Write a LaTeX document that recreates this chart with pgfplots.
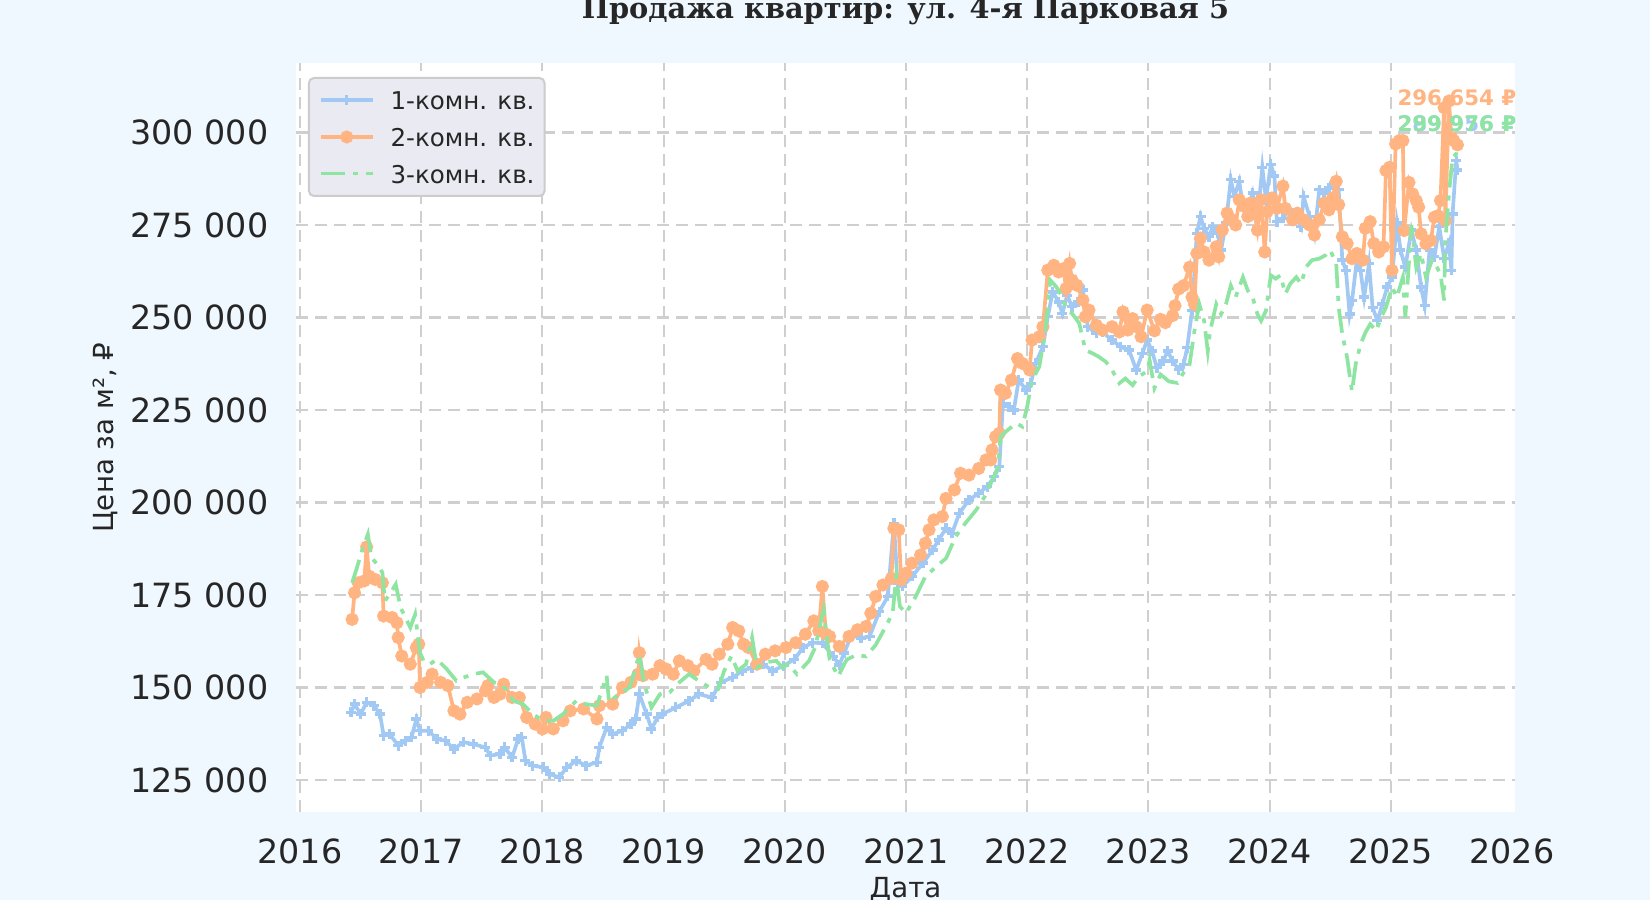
\documentclass[border=0pt]{standalone}
\usepackage{fontspec}
\setmainfont{DejaVu Sans}
\newfontfamily\titleserif{DejaVu Serif}
\usepackage{pgfplots}
\pgfplotsset{compat=1.18}

\definecolor{figbg}{HTML}{F0F8FF}
\definecolor{txt}{HTML}{262626}
\definecolor{gridcol}{HTML}{CFCFCF}
\definecolor{legbg}{HTML}{EAEAF2}
\definecolor{legborder}{HTML}{CCCCCC}
\definecolor{c1}{HTML}{A1C9F4}
\definecolor{c2}{HTML}{FFB482}
\definecolor{c3}{HTML}{8DE5A1}

\begin{document}
\begin{tikzpicture}
\useasboundingbox (0,0) rectangle (495pt,270pt);
\fill[figbg] (0,0) rectangle (495pt,270pt);
\begin{axis}[
    at={(88.8pt,26.4pt)}, anchor=south west,
    width=365.7pt, height=224.7pt, scale only axis,
    xmin=2015.967, xmax=2026.025,
    ymin=116350, ymax=318780,
    scaled y ticks=false,
    clip mode=individual,
    axis background/.style={fill=white},
    axis line style={draw=none},
    major tick length=0pt,
    grid=major,
    major grid style={gridcol, line width=0.65pt, dash pattern=on 3.6pt off 2.1pt},
    xtick={2016,2017,2018,2019,2020,2021,2022,2023,2024,2025},
    xticklabels={2016,2017,2018,2019,2020,2021,2022,2023,2024,2025},
    extra x ticks={2026},
    extra x tick labels={2026},
    extra x tick style={grid=none},
    ytick={125000,150000,175000,200000,225000,250000,275000,300000},
    yticklabels={125 000,150 000,175 000,200 000,225 000,250 000,275 000,300 000},
    /pgf/number format/assume math mode=true,
    tick label style={font=\fontsize{10}{12}\selectfont, text=txt, inner sep=0pt},
    xticklabel style={anchor=north, yshift=-7.8pt},
    yticklabel style={anchor=east, xshift=-8.1pt},
    xlabel={Дата},
    ylabel={Цена за м², ₽},
    every axis x label/.style={at={(axis description cs:0.5,-0.1135)}, anchor=base, font=\fontsize{8.3}{10}\selectfont, text=txt},
    every axis y label/.style={at={(axis description cs:-0.1567,0.5)}, rotate=90, anchor=center, font=\fontsize{8.3}{10}\selectfont, text=txt},
    legend cell align=left,
    legend image code/.code={\draw[mark repeat=2, mark phase=2, #1] plot coordinates {(0pt,0pt) (7.8pt,0pt) (15.6pt,0pt)};},
    legend style={at={(0.0098,0.9813)}, anchor=north west, fill=legbg, draw=legborder, line width=0.6pt,
        rounded corners=1.5pt, inner xsep=3pt, inner ysep=3.8pt, column sep=4.8pt, row sep=5.2pt,
        font=\fontsize{7.35}{9}\selectfont, text=txt,
        nodes={inner sep=0pt, text height=5.8pt, text depth=0pt}},
]
\addplot[c1, line width=1.1pt, mark=+, mark size=1.5pt, mark options={solid, line width=1pt}] coordinates {
(2016.42,143300) (2016.45,145500) (2016.50,142800) (2016.55,146000) (2016.61,145100) (2016.66,142800)
(2016.69,137000) (2016.74,137400) (2016.81,134300) (2016.87,135600) (2016.92,136500) (2016.96,141500)
(2016.99,138300) (2017.06,138300) (2017.13,136100) (2017.20,135600) (2017.27,133400) (2017.35,135200)
(2017.43,134700) (2017.53,133800) (2017.57,131600) (2017.65,132000) (2017.69,133800) (2017.75,131100)
(2017.80,136100) (2017.83,136500) (2017.86,130200) (2017.92,128900) (2018.01,128400) (2018.06,126600)
(2018.14,125700) (2018.20,128400) (2018.28,130200) (2018.36,128900) (2018.45,129800) (2018.47,133800)
(2018.53,139200) (2018.58,137400) (2018.66,138300) (2018.73,140100) (2018.77,141500) (2018.80,148200)
(2018.86,142800) (2018.90,138800) (2018.95,141900) (2018.99,142800) (2019.10,144600) (2019.21,146400)
(2019.29,148200) (2019.40,147300) (2019.47,151400) (2019.57,152700) (2019.65,154500) (2019.73,155400)
(2019.82,156300) (2019.90,154500) (2019.99,155900) (2020.08,157600) (2020.15,160800) (2020.23,162100)
(2020.31,162000) (2020.40,158400) (2020.45,156100) (2020.49,159300) (2020.55,164200) (2020.63,163300)
(2020.70,163800) (2020.78,170500) (2020.85,174600) (2020.90,194400) (2020.93,178200) (2020.97,177300)
(2021.05,180000) (2021.14,183600) (2021.22,187200) (2021.27,189900) (2021.33,193000) (2021.38,191700)
(2021.44,197100) (2021.52,200700) (2021.60,202500) (2021.67,204300) (2021.73,207000) (2021.77,209700)
(2021.80,226800) (2021.85,225900) (2021.89,225000) (2021.93,233100) (2021.99,230400) (2022.03,232200)
(2022.07,237600) (2022.13,242100) (2022.17,250200) (2022.21,256900) (2022.26,254200) (2022.29,251100)
(2022.33,256000) (2022.37,252900) (2022.42,254200) (2022.46,257400) (2022.50,247500) (2022.57,245700)
(2022.62,246100) (2022.70,243900) (2022.77,242100) (2022.84,241200) (2022.90,235800) (2022.95,240300)
(2022.99,243900) (2023.03,240900) (2023.07,236400) (2023.12,238200) (2023.16,240900) (2023.20,238200)
(2023.25,235900) (2023.29,237300) (2023.32,241800) (2023.36,251800) (2023.40,272700) (2023.43,277300)
(2023.46,274100) (2023.50,271800) (2023.53,274500) (2023.57,272700) (2023.60,268200) (2023.64,275500)
(2023.68,287300) (2023.71,282700) (2023.75,286800) (2023.78,280000) (2023.82,279100) (2023.86,283600)
(2023.90,276800) (2023.94,290500) (2023.97,281800) (2024.01,291400) (2024.04,288200) (2024.06,275900)
(2024.11,276800) (2024.16,279100) (2024.22,277300) (2024.26,274500) (2024.28,282700) (2024.33,277300)
(2024.37,272300) (2024.41,284500) (2024.45,283600) (2024.49,285000) (2024.53,286400) (2024.57,284500)
(2024.60,265500) (2024.63,262700) (2024.66,250900) (2024.68,254500) (2024.72,265500) (2024.75,262700)
(2024.78,255500) (2024.82,264500) (2024.85,252700) (2024.89,249100) (2024.93,253600) (2024.97,258200)
(2025.01,260900) (2025.05,275500) (2025.08,268200) (2025.12,263600) (2025.17,273600) (2025.21,268200)
(2025.25,258200) (2025.28,253200) (2025.32,268200) (2025.36,266400) (2025.40,274500) (2025.44,266000)
(2025.48,270000) (2025.50,262700) (2025.51,278000) (2025.54,292400) (2025.55,289900)
};
\addlegendentry{1-комн. кв.}
\addplot[c2, line width=1.1pt, mark=*, mark size=1.4pt, mark options={solid}] coordinates {
(2016.43,168400) (2016.45,175600) (2016.48,178300) (2016.53,178800) (2016.55,188000) (2016.57,180100)
(2016.62,179200) (2016.68,178300) (2016.69,169300) (2016.76,168900) (2016.80,167500) (2016.81,163500)
(2016.84,158500) (2016.91,156300) (2016.96,160800) (2016.98,161700) (2016.99,150000) (2017.05,151400)
(2017.09,153600) (2017.16,151400) (2017.22,150500) (2017.27,143700) (2017.32,142800) (2017.38,146000)
(2017.46,146900) (2017.53,149100) (2017.55,150500) (2017.60,147300) (2017.65,148200) (2017.68,150900)
(2017.75,147300) (2017.81,147300) (2017.87,141900) (2017.94,140100) (2018.00,138800) (2018.03,141900)
(2018.09,138800) (2018.17,141000) (2018.23,143700) (2018.34,144200) (2018.45,141500) (2018.47,145100)
(2018.58,145500) (2018.66,150000) (2018.73,151400) (2018.79,153600) (2018.80,159400) (2018.83,153200)
(2018.91,153600) (2018.97,155900) (2019.02,155000) (2019.08,153600) (2019.13,157200) (2019.20,155900)
(2019.25,154500) (2019.35,157600) (2019.40,156300) (2019.46,159000) (2019.53,161700) (2019.57,166200)
(2019.62,165300) (2019.66,161700) (2019.70,160800) (2019.77,156300) (2019.84,159000) (2019.92,159900)
(2020.01,160800) (2020.09,162100) (2020.17,164400) (2020.24,168000) (2020.28,165300) (2020.31,177300)
(2020.34,164400) (2020.37,163800) (2020.45,161100) (2020.53,163800) (2020.60,165600) (2020.67,166500)
(2020.71,170100) (2020.75,174600) (2020.81,177700) (2020.88,179500) (2020.90,193000) (2020.94,192600)
(2020.96,179100) (2021.00,180900) (2021.05,183600) (2021.12,185800) (2021.16,189000) (2021.19,192600)
(2021.23,195300) (2021.30,196200) (2021.33,201100) (2021.40,203400) (2021.45,207900) (2021.52,207400)
(2021.60,209200) (2021.66,211500) (2021.70,211500) (2021.71,214200) (2021.74,217800) (2021.77,218700)
(2021.78,230400) (2021.82,229500) (2021.87,233100) (2021.92,238900) (2021.96,237600) (2022.02,235800)
(2022.04,243900) (2022.10,244800) (2022.13,247500) (2022.17,262800) (2022.22,264100) (2022.26,262300)
(2022.30,263200) (2022.32,257800) (2022.35,264600) (2022.37,260100) (2022.41,258700) (2022.46,254700)
(2022.48,250200) (2022.51,252000) (2022.57,247900) (2022.62,246600) (2022.70,247500) (2022.76,246100)
(2022.79,251500) (2022.83,246600) (2022.87,249700) (2022.90,247500) (2022.94,244800) (2022.99,252000)
(2023.05,246400) (2023.10,249500) (2023.14,248600) (2023.20,250500) (2023.22,253200) (2023.25,257700)
(2023.29,258600) (2023.34,263600) (2023.36,255500) (2023.38,253600) (2023.40,267300) (2023.43,271400)
(2023.46,267700) (2023.50,265500) (2023.56,269100) (2023.58,266400) (2023.61,273600) (2023.65,278200)
(2023.69,276400) (2023.72,275000) (2023.75,281800) (2023.79,280000) (2023.82,277300) (2023.84,280900)
(2023.87,279100) (2023.90,273600) (2023.93,281800) (2023.96,267700) (2023.98,278600) (2024.02,282300)
(2024.06,279500) (2024.11,285500) (2024.13,279500) (2024.19,276400) (2024.23,278200) (2024.28,276400)
(2024.33,275000) (2024.37,272300) (2024.41,276400) (2024.45,280900) (2024.49,279100) (2024.52,282300)
(2024.55,286800) (2024.57,280500) (2024.60,271800) (2024.64,270000) (2024.68,265900) (2024.72,267300)
(2024.77,265500) (2024.79,274100) (2024.83,275900) (2024.86,270000) (2024.90,267700) (2024.94,269100)
(2024.96,289700) (2024.99,290600) (2025.01,262700) (2025.04,296900) (2025.07,297800) (2025.10,297800)
(2025.11,273500) (2025.15,286500) (2025.18,283400) (2025.21,281600) (2025.23,279800) (2025.25,272600)
(2025.29,269900) (2025.33,270800) (2025.36,277100) (2025.39,277500) (2025.41,281600) (2025.44,306700)
(2025.45,276200) (2025.48,308500) (2025.50,298700) (2025.52,297800) (2025.55,296654)
};
\addlegendentry{2-комн. кв.}
\addplot[c3, line width=1.1pt, dash pattern=on 7.2pt off 2.4pt on 1.5pt off 2.4pt] coordinates {
(2016.43,178300) (2016.47,182400) (2016.51,186900) (2016.56,191400) (2016.59,185100) (2016.65,182800)
(2016.68,181000) (2016.70,173400) (2016.74,175200) (2016.79,177900) (2016.83,171600) (2016.87,168900)
(2016.91,166200) (2016.95,169800) (2016.97,164400) (2016.99,159400) (2017.02,157200) (2017.07,156300)
(2017.13,157600) (2017.21,155000) (2017.29,151800) (2017.35,152700) (2017.43,153600) (2017.51,154100)
(2017.60,151400) (2017.65,150900) (2017.70,149600) (2017.76,146400) (2017.84,145500) (2017.92,142800)
(2018.01,141000) (2018.09,141000) (2018.17,142800) (2018.28,146400) (2018.36,145500) (2018.45,145100)
(2018.53,153200) (2018.55,146000) (2018.63,148200) (2018.72,150000) (2018.80,159000) (2018.84,150900)
(2018.90,144600) (2018.97,148200) (2019.05,148700) (2019.13,151400) (2019.21,153600) (2019.29,151800)
(2019.38,150000) (2019.45,149600) (2019.50,154500) (2019.56,158500) (2019.61,154500) (2019.68,156300)
(2019.73,163500) (2019.77,155400) (2019.84,156800) (2019.93,157200) (2019.98,155400) (2020.03,156300)
(2020.10,153600) (2020.20,157200) (2020.25,160800) (2020.32,171000) (2020.37,157500) (2020.44,153000)
(2020.51,157500) (2020.59,158800) (2020.67,158400) (2020.75,161500) (2020.84,166900) (2020.89,170100)
(2020.92,180000) (2020.95,171900) (2021.00,170100) (2021.08,174600) (2021.16,180000) (2021.25,182700)
(2021.33,184900) (2021.41,190800) (2021.49,194400) (2021.58,198000) (2021.65,201600) (2021.70,205200)
(2021.76,209700) (2021.78,217800) (2021.84,219600) (2021.91,221400) (2021.96,220500) (2022.00,225900)
(2022.04,233100) (2022.10,236700) (2022.15,246600) (2022.19,260100) (2022.24,258300) (2022.29,255600)
(2022.32,252400) (2022.37,251100) (2022.43,248400) (2022.48,241200) (2022.54,240300) (2022.59,239400)
(2022.65,238000) (2022.70,235800) (2022.76,232200) (2022.81,233500) (2022.87,231700) (2022.92,234000)
(2022.99,235500) (2023.01,238500) (2023.05,230900) (2023.10,234600) (2023.17,232700) (2023.24,232300)
(2023.28,234600) (2023.34,237300) (2023.38,246400) (2023.42,253600) (2023.46,249100) (2023.49,240900)
(2023.51,246400) (2023.56,253600) (2023.60,250900) (2023.64,253600) (2023.68,258600) (2023.72,255500)
(2023.78,260900) (2023.82,257300) (2023.86,255500) (2023.90,250900) (2023.93,249100) (2023.97,251800)
(2024.01,261400) (2024.05,260500) (2024.09,261400) (2024.13,256400) (2024.17,259100) (2024.22,260900)
(2024.26,259100) (2024.30,263600) (2024.35,265500) (2024.41,265900) (2024.46,266800) (2024.50,268200)
(2024.55,264500) (2024.57,252700) (2024.60,245500) (2024.64,239100) (2024.68,230000) (2024.71,237300)
(2024.75,242700) (2024.79,245900) (2024.83,248200) (2024.88,246400) (2024.92,250000) (2024.96,252700)
(2025.01,258200) (2025.05,255500) (2025.10,260900) (2025.12,250000) (2025.17,275000) (2025.21,263600)
(2025.25,267300) (2025.29,260900) (2025.34,265500) (2025.38,263600) (2025.41,261800) (2025.44,254600)
(2025.45,270800) (2025.48,283400) (2025.51,293300) (2025.54,294200) (2025.55,296500)
};
\addlegendentry{3-комн. кв.}
\node[anchor=base west, text=c2, font=\fontsize{6.4}{7}\selectfont\bfseries, inner sep=0pt] at (axis cs:2025.05,307240) {296 654 ₽};
\node[anchor=base west, text=c1, font=\fontsize{6.4}{7}\selectfont\bfseries, inner sep=0pt] at (axis cs:2025.05,300200) {289 956 ₽};
\node[anchor=base west, text=c3, font=\fontsize{6.4}{7}\selectfont\bfseries, inner sep=0pt] at (axis cs:2025.05,300200) {299 976 ₽};
\node[anchor=base, text=txt, font=\titleserif\bfseries\fontsize{8.65}{10}\selectfont, inner sep=0pt] at (axis description cs:0.5,1.060) {Продажа квартир: ул. 4-я Парковая 5};
\end{axis}
\end{tikzpicture}
\end{document}
